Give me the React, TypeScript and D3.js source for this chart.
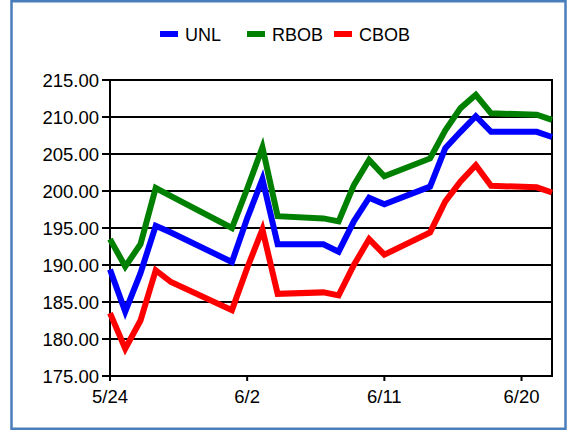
import React, { useEffect, useRef } from "react";
import * as d3 from "d3";

// trading days
const dates = [
  "2010-05-24", "2010-05-25", "2010-05-26", "2010-05-27", "2010-05-28",
  "2010-06-01", "2010-06-02", "2010-06-03", "2010-06-04", "2010-06-07",
  "2010-06-08", "2010-06-09", "2010-06-10", "2010-06-11", "2010-06-14",
  "2010-06-15", "2010-06-16", "2010-06-17", "2010-06-18", "2010-06-21",
  "2010-06-22",
];

const unl = [189.4, 183.7, 188.9, 195.3, 194.4, 190.4, 196.3, 201.6, 192.8, 192.8, 191.8, 195.9, 199.1, 198.2, 200.6, 205.8, 208.0, 210.1, 208.0, 208.0, 207.3];
const rbob = [193.5, 189.8, 192.8, 200.4, 199.3, 195.0, 200.3, 205.9, 196.6, 196.3, 195.9, 200.8, 204.2, 202.0, 204.4, 208.2, 211.2, 213.0, 210.5, 210.3, 209.6];
const cbob = [183.5, 178.7, 182.5, 189.3, 187.7, 183.9, 189.6, 194.8, 186.1, 186.3, 185.9, 190.0, 193.5, 191.4, 194.4, 198.6, 201.3, 203.5, 200.7, 200.5, 199.8];

const seriesNames = ["UNL", "RBOB", "CBOB"];
const seriesColors = ["#0000ff", "#008000", "#ff0000"];

const yTicks = [175, 180, 185, 190, 195, 200, 205, 210, 215];
const xTicks = ["2010-05-24", "2010-06-02", "2010-06-11", "2010-06-20"];
const xEnd = "2010-06-22";

const width = 569;
const height = 431;

const parse = d3.timeParse("%Y-%m-%d");
const font = "Liberation Sans, Arial, sans-serif";

function App() {
  const svgRef = useRef<SVGSVGElement>(null);

  useEffect(() => {
    const svg = d3.select(svgRef.current);
    svg.selectAll("*").remove();

    const left = 110, right = 552, top = 80, bottom = 376;

    const x = d3.scaleTime()
      .domain([parse(dates[0])!, parse(xEnd)!])
      .range([left, right]);
    const y = d3.scaleLinear().domain([175, 215]).range([bottom, top]);

    // outer frame
    svg.append("rect")
      .attr("x", 11.5).attr("y", 1.25)
      .attr("width", 554).attr("height", 427.5)
      .attr("fill", "#fff")
      .attr("stroke", "#4a7ebb")
      .attr("stroke-width", 2.5);

    // grid lines
    svg.append("g")
      .selectAll("line")
      .data(yTicks)
      .enter()
      .append("line")
      .attr("x1", left - 8).attr("x2", right)
      .attr("y1", d => y(d)).attr("y2", d => y(d))
      .attr("stroke", "#000")
      .attr("stroke-width", 2);

    // y labels
    svg.append("g")
      .selectAll("text")
      .data(yTicks)
      .enter()
      .append("text")
      .attr("x", left - 11)
      .attr("y", d => y(d) + 6.5)
      .attr("text-anchor", "end")
      .attr("font-family", font)
      .attr("font-size", 18.5)
      .attr("fill", "#000")
      .text(d => d.toFixed(2));

    // x axis ticks and labels
    const fmt = d3.timeFormat("%-m/%-d");
    svg.append("g")
      .selectAll("line")
      .data(xTicks)
      .enter()
      .append("line")
      .attr("x1", d => x(parse(d)!)).attr("x2", d => x(parse(d)!))
      .attr("y1", bottom).attr("y2", bottom + 5)
      .attr("stroke", "#000")
      .attr("stroke-width", 2);
    svg.append("g")
      .selectAll("text")
      .data(xTicks)
      .enter()
      .append("text")
      .attr("x", d => x(parse(d)!))
      .attr("y", bottom + 27)
      .attr("text-anchor", "middle")
      .attr("font-family", font)
      .attr("font-size", 18.5)
      .attr("fill", "#000")
      .text(d => fmt(parse(d)!));

    // plot frame verticals
    svg.append("line")
      .attr("x1", left).attr("x2", left)
      .attr("y1", top).attr("y2", bottom + 5)
      .attr("stroke", "#000").attr("stroke-width", 2);
    svg.append("line")
      .attr("x1", right).attr("x2", right)
      .attr("y1", top - 1).attr("y2", bottom + 1)
      .attr("stroke", "#000").attr("stroke-width", 2);

    // series
    const all = [unl, rbob, cbob];
    const line = d3.line<number>()
      .x((d, i) => x(parse(dates[i])!))
      .y(d => y(d));
    svg.append("g")
      .selectAll("path")
      .data(all)
      .enter()
      .append("path")
      .attr("d", d => line(d))
      .attr("fill", "none")
      .attr("stroke", (d, i) => seriesColors[i])
      .attr("stroke-width", 6)
      .attr("stroke-linejoin", "miter");

    // legend
    const legendX = [160, 247, 334];
    const lg = svg.append("g")
      .selectAll("g")
      .data(seriesNames)
      .enter()
      .append("g")
      .attr("transform", (d, i) => `translate(${legendX[i]},34)`);
    lg.append("rect")
      .attr("x", 0).attr("y", -3)
      .attr("width", 18).attr("height", 6)
      .attr("fill", (d, i) => seriesColors[i]);
    lg.append("text")
      .attr("x", 25).attr("y", 6.5)
      .attr("font-family", font)
      .attr("font-size", 18)
      .attr("fill", "#000")
      .text(d => d);
  }, []);

  return (
    <svg
      ref={svgRef}
      width={width}
      height={height}
      style={{ position: "absolute", left: 0, top: 0 }}
    />
  );
}

export default App;
